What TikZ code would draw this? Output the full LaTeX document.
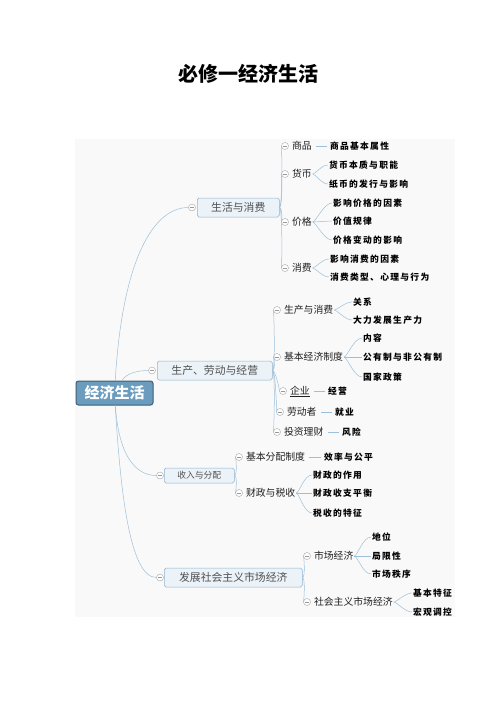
\documentclass[tikz,border=0pt]{standalone}
\usepackage{fontspec}
\newfontfamily\cjk{Noto Sans CJK SC}
\newfontfamily\cjkleaf[LetterSpace=15]{Noto Sans CJK SC}
\definecolor{mmBack}{HTML}{F9F9F9}
\definecolor{mmRoot}{HTML}{6B9BBD}
\definecolor{mmRootEdge}{HTML}{3E5E78}
\definecolor{mmTopic}{HTML}{EBF2F8}
\definecolor{mmTopicEdge}{HTML}{8EB2D0}
\definecolor{mmLink}{HTML}{9CBFDA}
\definecolor{mmGrey}{HTML}{505050}
\definecolor{mmText}{HTML}{202020}
\usetikzlibrary{positioning}

\begin{document}
\begin{tikzpicture}[x=1.2pt, y=-1.2pt,
  central/.style={rounded corners=3pt, fill=mmRoot, draw=mmRootEdge, line width=1.2pt,
    text=white, minimum width=92.4pt, minimum height=28.8pt, inner sep=0pt,
    font=\fontsize{18pt}{18pt}\selectfont\cjk\bfseries},
  topic/.style={rounded corners=2pt, fill=mmTopic, draw=mmTopicEdge, line width=0.6pt,
    text=mmGrey, anchor=west, minimum height=22.8pt, inner sep=0pt,
    font=\fontsize{13pt}{13pt}\selectfont\cjk},
  sub/.style={anchor=west, inner sep=1pt, text=mmText,
    font=\fontsize{11.8pt}{12pt}\selectfont\cjk},
  leaf/.style={anchor=west, inner sep=1pt, text=black,
    font=\fontsize{10.5pt}{12pt}\selectfont\cjkleaf\bfseries},
  fold/.style={circle, draw=gray!70, fill=white, line width=0.5pt, minimum size=8.4pt, inner sep=0pt,
    path picture={\draw[gray!80, line width=0.5pt]
      ([xshift=1.6pt]path picture bounding box.west) -- ([xshift=-1.6pt]path picture bounding box.east);}},
  link/.style={draw=mmLink, line width=0.6pt},
  stub/.style={link, shorten <=4pt, shorten >=3pt}
]
  \useasboundingbox (0,0) rectangle (496,702);
  \fill[mmBack] (75,139) rectangle (455,617);

  \node[font=\fontsize{24pt}{24pt}\selectfont\cjk\bfseries] (title) at (248,74) {必修一经济生活};

  % central topic
  \node[central] (econ) at (114.5,393) {经济生活};

  % main topics
  \node[fold] (lifeF) at (192,207.5) {};
  \node[topic, minimum width=98.4pt] (life) at (197,207.5) {生活与消费};
  \node[fold] (prodF) at (152,370.5) {};
  \node[topic, minimum width=138pt] (prod) at (157,370.5) {生产、劳动与经营};
  \node[fold] (incomeF) at (160,475.5) {};
  \node[topic, minimum width=84pt, minimum height=18pt, font=\fontsize{10.5pt}{11pt}\selectfont\cjk] (income) at (164,475.5) {收入与分配};
  \node[fold] (marketF) at (160,577.5) {};
  \node[topic, minimum width=165.6pt] (market) at (164,577.5) {发展社会主义市场经济};

  \draw[link] (econ) .. controls +(8,-135) and +(-38,0) .. (lifeF);
  \draw[link] (econ) .. controls +(12,-20) and +(-14,0) .. (prodF);
  \draw[link] (econ) .. controls +(4,60) and +(-26,0) .. (incomeF);
  \draw[link] (econ) .. controls +(6,100) and +(-30,0) .. (marketF);

  % 生活与消费
  \node[fold] (goodsF) at (285,146) {};
  \node[sub] (goods) at (291,146) {商品};
  \node[leaf] (goodsA) at (329,146) {商品基本属性};
  \node[fold] (moneyF) at (285,174) {};
  \node[sub] (money) at (291,174) {货币};
  \node[leaf] (moneyA) at (328,165) {货币本质与职能};
  \node[leaf] (moneyB) at (328,184) {纸币的发行与影响};
  \node[fold] (priceF) at (285,222) {};
  \node[sub] (price) at (291,222) {价格};
  \node[leaf] (priceA) at (332,203) {影响价格的因素};
  \node[leaf] (priceB) at (332,221) {价值规律};
  \node[leaf] (priceC) at (332,240) {价格变动的影响};
  \node[fold] (spendF) at (285,268) {};
  \node[sub] (spend) at (291,268) {消费};
  \node[leaf] (spendA) at (329,259) {影响消费的因素};
  \node[leaf] (spendB) at (329,277) {消费类型、心理与行为};

  \draw[link] (life.east) .. controls +(3,0) and +(-3,0) .. (goodsF);
  \draw[link] (life.east) .. controls +(3,0) and +(-3,0) .. (moneyF);
  \draw[link] (life.east) .. controls +(3,0) and +(-3,0) .. (priceF);
  \draw[link] (life.east) .. controls +(3,0) and +(-3,0) .. (spendF);
  \draw[stub] (goods) -- (goodsA);
  \draw[link] (money.east) .. controls +(3,0) and +(-7,0) .. (moneyA.west);
  \draw[link] (money.east) .. controls +(3,0) and +(-7,0) .. (moneyB.west);
  \draw[link] (price.east) .. controls +(3,0) and +(-8,0) .. (priceA.west);
  \draw[link] (price.east) -- (priceB.west);
  \draw[link] (price.east) .. controls +(3,0) and +(-8,0) .. (priceC.west);
  \draw[link] (spend.east) .. controls +(3,0) and +(-7,0) .. (spendA.west);
  \draw[link] (spend.east) .. controls +(3,0) and +(-7,0) .. (spendB.west);

  % 生产、劳动与经营
  \node[fold] (makeF) at (277,310) {};
  \node[sub] (make) at (283,310) {生产与消费};
  \node[leaf] (makeA) at (352,302) {关系};
  \node[leaf] (makeB) at (352,320) {大力发展生产力};
  \node[fold] (systemF) at (277,357) {};
  \node[sub] (system) at (283,357) {基本经济制度};
  \node[leaf] (systemA) at (362,338) {内容};
  \node[leaf] (systemB) at (362,357) {公有制与非公有制};
  \node[leaf] (systemC) at (362,377) {国家政策};
  \node[fold] (firmF) at (283,391) {};
  \node[sub] (firm) at (289,391) {\underline{企业}};
  \node[leaf] (firmA) at (327,391) {经营};
  \node[fold] (workerF) at (280,412) {};
  \node[sub] (worker) at (286,412) {劳动者};
  \node[leaf] (workerA) at (334,412) {就业};
  \node[fold] (investF) at (277,432) {};
  \node[sub] (invest) at (283,432) {投资理财};
  \node[leaf] (investA) at (341,432) {风险};

  \draw[link] (prod.east) .. controls +(3,0) and +(-3,0) .. (makeF);
  \draw[link] (prod.east) .. controls +(3,0) and +(-3,0) .. (systemF);
  \draw[link] (prod.east) .. controls +(3,0) and +(-3,0) .. (firmF);
  \draw[link] (prod.east) .. controls +(3,0) and +(-3,0) .. (workerF);
  \draw[link] (prod.east) .. controls +(3,0) and +(-3,0) .. (investF);
  \draw[link] (make.east) .. controls +(3,0) and +(-7,0) .. (makeA.west);
  \draw[link] (make.east) .. controls +(3,0) and +(-7,0) .. (makeB.west);
  \draw[link] (system.east) .. controls +(3,0) and +(-8,0) .. (systemA.west);
  \draw[link] (system.east) -- (systemB.west);
  \draw[link] (system.east) .. controls +(3,0) and +(-8,0) .. (systemC.west);
  \draw[stub] (firm) -- (firmA);
  \draw[stub] (worker) -- (workerA);
  \draw[stub] (invest) -- (investA);

  % 收入与分配
  \node[fold] (shareF) at (239,457) {};
  \node[sub] (share) at (245,457) {基本分配制度};
  \node[leaf] (shareA) at (323,457) {效率与公平};
  \node[fold] (taxF) at (239,493) {};
  \node[sub] (tax) at (245,493) {财政与税收};
  \node[leaf] (taxA) at (312,475) {财政的作用};
  \node[leaf] (taxB) at (312,493) {财政收支平衡};
  \node[leaf] (taxC) at (312,513) {税收的特征};

  \draw[link] (income.east) .. controls +(3,0) and +(-3,0) .. (shareF);
  \draw[link] (income.east) .. controls +(3,0) and +(-3,0) .. (taxF);
  \draw[stub] (share) -- (shareA);
  \draw[link] (tax.east) .. controls +(3,0) and +(-8,0) .. (taxA.west);
  \draw[link] (tax.east) -- (taxB.west);
  \draw[link] (tax.east) .. controls +(3,0) and +(-8,0) .. (taxC.west);

  % 发展社会主义市场经济
  \node[fold] (econoF) at (307,556) {};
  \node[sub] (econo) at (313,556) {市场经济};
  \node[leaf] (econoA) at (371,537) {地位};
  \node[leaf] (econoB) at (371,556) {局限性};
  \node[leaf] (econoC) at (371,574) {市场秩序};
  \node[fold] (socF) at (307,602) {};
  \node[sub] (soc) at (313,602) {社会主义市场经济};
  \node[leaf] (socA) at (412,593) {基本特征};
  \node[leaf] (socB) at (412,612) {宏观调控};

  \draw[link] (market.east) .. controls +(3,0) and +(-3,0) .. (econoF);
  \draw[link] (market.east) .. controls +(3,0) and +(-3,0) .. (socF);
  \draw[link] (econo.east) .. controls +(3,0) and +(-8,0) .. (econoA.west);
  \draw[link] (econo.east) -- (econoB.west);
  \draw[link] (econo.east) .. controls +(3,0) and +(-8,0) .. (econoC.west);
  \draw[link] (soc.east) .. controls +(3,0) and +(-7,0) .. (socA.west);
  \draw[link] (soc.east) .. controls +(3,0) and +(-7,0) .. (socB.west);
\end{tikzpicture}
\end{document}
